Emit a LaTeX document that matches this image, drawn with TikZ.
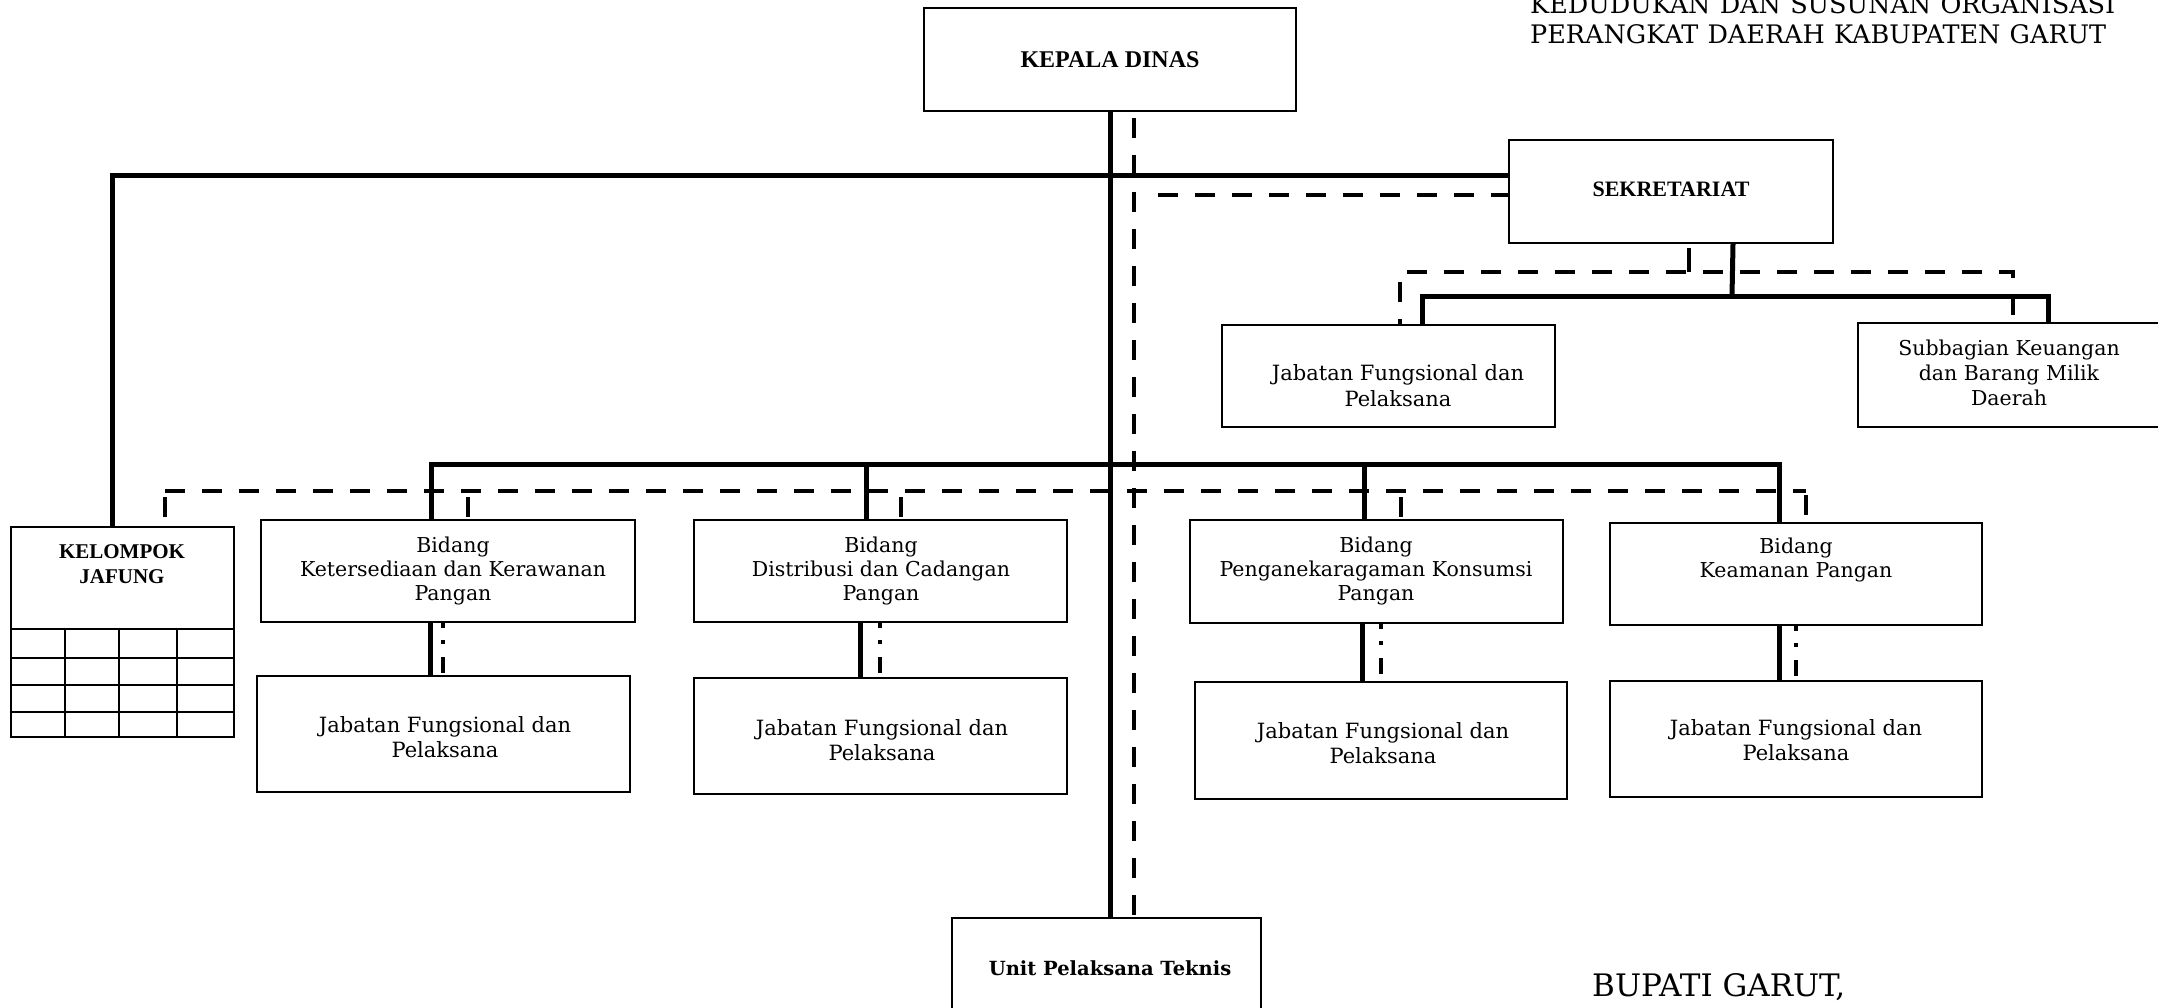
\documentclass[tikz,border=0pt]{standalone}
\usepackage{fontspec}
\setmainfont{DejaVu Serif}
\newfontfamily\tms{Liberation Serif}
\begin{document}
\begin{tikzpicture}[x=1pt,y=-1pt,
  box/.style={draw,line width=2pt,inner sep=0pt},
  solidline/.style={line width=5pt},
  dashline/.style={line width=4.5pt,dash pattern=on 20pt off 17pt},
  stubline/.style={line width=4.5pt,dash pattern=on 0pt off 6pt on 20pt off 60pt},
  ddline/.style={line width=4pt,dash pattern=on 5pt off 12pt on 4pt off 13pt on 16pt off 60pt},
  gridline/.style={line width=1.8pt},
  lbl/.style={align=center,inner sep=0pt,anchor=base,font=\fontsize{20.5}{24}\selectfont},
  jlbl/.style={align=center,inner sep=0pt,anchor=base,font=\fontsize{21}{25}\selectfont},
  blbl/.style={align=center,inner sep=0pt,anchor=base},
]
\useasboundingbox (0,0) rectangle (2158,1007);

% boxes
\node[box,minimum width=372pt,minimum height=103pt] (kd) at (1110,59.5) {};
\node[box,minimum width=324pt,minimum height=103pt] (sek) at (1671,191.5) {};
\node[box,minimum width=333pt,minimum height=102pt] (jfs) at (1388.5,376) {};
\node[box,minimum width=312pt,minimum height=104pt] (sub) at (2014,375) {};
\node[box,minimum width=223pt,minimum height=210pt] (kj) at (122.5,632) {};
\node[box,minimum width=374pt,minimum height=102pt] (b1) at (448,571) {};
\node[box,minimum width=373pt,minimum height=102pt] (b2) at (880.5,571) {};
\node[box,minimum width=373pt,minimum height=103pt] (b3) at (1376.5,571.5) {};
\node[box,minimum width=372pt,minimum height=102pt] (b4) at (1796,574) {};
\node[box,minimum width=373pt,minimum height=116pt] (j1) at (443.5,734) {};
\node[box,minimum width=373pt,minimum height=116pt] (j2) at (880.5,736) {};
\node[box,minimum width=372pt,minimum height=117pt] (j3) at (1381,740.5) {};
\node[box,minimum width=372pt,minimum height=116pt] (j4) at (1796,739) {};
\node[box,minimum width=309pt,minimum height=142pt] (upt) at (1106.5,989) {};

% kelompok jafung grid
\foreach \yy in {629,658,685,712}
  \draw[gridline] (kj.west |- 0,\yy) -- (kj.east |- 0,\yy);
\foreach \xx in {65,119,177}
  \draw[gridline] (\xx,629) -- (kj.south -| \xx,0);

% texts (base anchor = baseline of the last line)
\node[blbl,font=\tms\bfseries\fontsize{24}{28}\selectfont] (kd-t) at (1110,67) {KEPALA DINAS};
\node[blbl,font=\tms\bfseries\fontsize{22}{26}\selectfont] (sek-t) at (1671,196) {SEKRETARIAT};
\node[blbl,font=\tms\bfseries\fontsize{21}{25}\selectfont] (kj-t) at (122,583) {KELOMPOK\\JAFUNG};
\node[lbl] (b1-t) at (453,600) {Bidang\\Ketersediaan dan Kerawanan\\Pangan};
\node[lbl] (b2-t) at (881,600) {Bidang\\Distribusi dan Cadangan\\Pangan};
\node[lbl] (b3-t) at (1376,600) {Bidang\\Penganekaragaman Konsumsi\\Pangan};
\node[lbl] (b4-t) at (1796,577) {Bidang\\Keamanan Pangan};
\node[jlbl] (j1-t) at (445,757) {Jabatan Fungsional dan\\Pelaksana};
\node[jlbl] (j2-t) at (882,760) {Jabatan Fungsional dan\\Pelaksana};
\node[jlbl] (j3-t) at (1383,763) {Jabatan Fungsional dan\\Pelaksana};
\node[jlbl] (j4-t) at (1796,760) {Jabatan Fungsional dan\\Pelaksana};
\node[jlbl,font=\fontsize{21}{26}\selectfont] (jfs-t) at (1398,406) {Jabatan Fungsional dan\\Pelaksana};
\node[lbl,font=\fontsize{20.5}{25}\selectfont] (sub-t) at (2009,405) {Subbagian Keuangan\\dan Barang Milik\\Daerah};
\node[blbl,font=\bfseries\fontsize{19.5}{23}\selectfont] (upt-t) at (1110,975) {Unit Pelaksana Teknis};
\node[inner sep=0pt,anchor=base west,font=\fontsize{31}{36}\selectfont] (bup) at (1592,996) {BUPATI GARUT,};
\node[inner sep=0pt,anchor=base west,font=\fontsize{25.5}{30}\selectfont] (h1) at (1530,13) {\makebox[585pt][s]{KEDUDUKAN DAN SUSUNAN ORGANISASI}};
\node[inner sep=0pt,anchor=base west,font=\fontsize{25.5}{30}\selectfont] (h2) at (1530,43) {\makebox[576pt][s]{PERANGKAT DAERAH KABUPATEN GARUT}};

% helper coordinates
\coordinate (hl) at (112,175);
\coordinate (dh) at (1158,195);
\coordinate (bus) at (0,464);
\coordinate (dbus) at (0,491);
\coordinate (sh) at (0,296);
\coordinate (sd) at (0,272);

% solid connectors
\draw[solidline] (kd.south) -- (kd.south |- upt.north);
\draw[solidline] (kj.north -| hl) -- (hl) -- (sek.west |- hl);
\draw[solidline] (b1.north -| 431,0) -- (431,0 |- bus) -- (1779,0 |- bus) -- (b4.north -| 1779,0);
\draw[solidline] (b2.north -| 866,0) -- (866,0 |- bus);
\draw[solidline] (b3.north -| 1364,0) -- (1364,0 |- bus);
\draw[solidline] (b1.south -| 430,0) -- (j1.north -| 430,0);
\draw[solidline] (b2.south -| 860,0) -- (j2.north -| 860,0);
\draw[solidline] (b3.south -| 1362,0) -- (j3.north -| 1362,0);
\draw[solidline] (b4.south -| 1779,0) -- (j4.north -| 1779,0);
\draw[solidline] (sek.south -| 1733,0) -- (1732,0 |- sh);
\draw[solidline] (jfs.north -| 1422,0) -- (1422,0 |- sh) -- (2048,0 |- sh) -- (sub.north -| 2048,0);

% dashed connectors
\draw[dashline,dash phase=31pt] (kd.south -| 1134,0) -- (upt.north -| 1134,0);
\draw[dashline] (dh) -- (sek.west |- dh);
\draw[dashline] (165,0 |- dbus) -- (1806,0 |- dbus);
\draw[stubline] (165,0 |- dbus) -- (kj.north -| 165,0);
\draw[stubline] (468,0 |- dbus) -- (b1.north -| 468,0);
\draw[stubline] (901,0 |- dbus) -- (b2.north -| 901,0);
\draw[stubline] (1401,0 |- dbus) -- (b3.north -| 1401,0);
\draw[stubline,dash pattern=on 0pt off 4pt on 20pt off 60pt] (1806,0 |- dbus) -- (b4.north -| 1806,0);
\draw[ddline] (b1.south -| 443,0) -- (j1.north -| 443,0);
\draw[ddline] (b2.south -| 880,0) -- (j2.north -| 880,0);
\draw[ddline] (b3.south -| 1381,0) -- (j3.north -| 1381,0);
\draw[ddline] (b4.south -| 1796,0) -- (j4.north -| 1796,0);
\draw[dashline,dash pattern=on 0pt off 4pt on 30pt off 20pt] (sek.south -| 1689,0) -- (1689,0 |- sd);
\draw[dashline,dash phase=15pt] (jfs.north -| 1400,0) -- (1400,0 |- sd) -- (2013,0 |- sd) -- (sub.north -| 2013,0);
\end{tikzpicture}
\end{document}
